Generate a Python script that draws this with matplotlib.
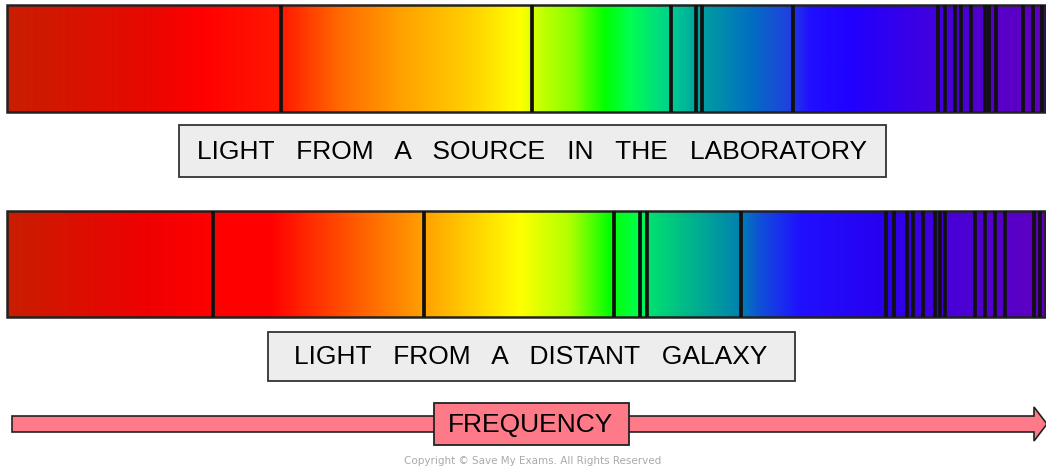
import numpy as np
import matplotlib.pyplot as plt
from matplotlib.patches import Rectangle, Polygon

W, H = 1046, 469

# absorption line positions along the frequency axis (same units as the picture width)
lab_lines = [281, 532, 671, 696, 702, 793, 938, 945, 955, 961, 971, 985, 989, 996, 1023, 1033, 1042]
galaxy_lines = [213, 424, 614, 640, 647, 741, 886, 894, 907, 913, 923, 935, 940, 945,
                975, 985, 995, 1005, 1034, 1040]

lab_label = "LIGHT   FROM   A   SOURCE   IN   THE   LABORATORY"
galaxy_label = "LIGHT   FROM   A   DISTANT   GALAXY"
axis_label = "FREQUENCY"

# colour stops of the two spectra (position, colour)
lab_stops = [7, 150, 200, 281, 340, 400, 470, 520, 540, 575, 605, 630, 670, 700, 750,
             790, 810, 850, 930, 1000, 1046]
lab_cols = ["#C81E00", "#E80800", "#FF0000", "#FF1800", "#FF6A00", "#FFA000", "#FFD000",
            "#FFFF00", "#C8FF00", "#80FF00", "#00FF00", "#00FF50", "#00D090", "#00A0A0",
            "#0070C0", "#2040E0", "#2010FF", "#2000FF", "#4000E0", "#5800C8", "#6000C0"]
gal_stops = [7, 150, 213, 270, 330, 400, 424, 480, 520, 570, 610, 640, 650, 741, 760,
             800, 880, 950, 1046]
gal_cols = ["#C81E00", "#F00000", "#FF0000", "#FF0000", "#FF4000", "#FF8800", "#FFA000",
            "#FFD800", "#FFFF00", "#B0FF00", "#00FF00", "#00FF50", "#00E070", "#0080B0",
            "#1050D8", "#2010FF", "#2800F0", "#4800D8", "#6000C0"]


def hex2rgb(h):
    return [int(h[i:i + 2], 16) / 255 for i in (1, 3, 5)]


def spectrum(ax, stops, cols, lines, y0, y1, x0=7, x1=1045):
    xs = np.linspace(x0, x1, 1200)
    rgb = np.array([hex2rgb(c) for c in cols])
    img = np.stack([np.interp(xs, stops, rgb[:, k]) for k in range(3)], axis=-1)
    ax.imshow(img[None, :, :], extent=(x0, x1, y1, y0), aspect='auto', interpolation='bilinear')
    ax.vlines(lines, y0, y1, color='#111111', lw=2.7)
    ax.add_patch(Rectangle((x0, y0), x1 - x0, y1 - y0, fill=False, ec='#222222', lw=1.8))


fig = plt.figure(figsize=(W / 100, H / 100), dpi=100)
ax = fig.add_axes([0, 0, 1, 1])
ax.set_xlim(0, W)
ax.set_ylim(H, 0)
ax.axis('off')

spectrum(ax, lab_stops, lab_cols, lab_lines, 5, 112)
spectrum(ax, gal_stops, gal_cols, galaxy_lines, 211, 317)

fam = ['Liberation Sans', 'DejaVu Sans']

ax.add_patch(Rectangle((179, 125), 707, 52, fc='#EDEDED', ec='#333333', lw=1.3))
ax.text(532, 152, lab_label, ha='center', va='center', fontsize=19, family=fam)

ax.add_patch(Rectangle((268, 332), 527, 49, fc='#EDEDED', ec='#333333', lw=1.3))
ax.text(531, 357, galaxy_label, ha='center', va='center', fontsize=19, family=fam)

# frequency arrow
pink = '#FF7A88'
arrow = Polygon([(12, 416), (1034, 416), (1034, 407), (1047, 424), (1034, 441),
                 (1034, 432), (12, 432)], closed=True, fc=pink, ec='#222222', lw=1.2)
ax.add_patch(arrow)
ax.add_patch(Rectangle((434, 403), 195, 42, fc=pink, ec='#222222', lw=1.3))
ax.text(531, 425, axis_label, ha='center', va='center', fontsize=19, family=fam)

ax.text(533, 461, "Copyright \u00a9 Save My Exams. All Rights Reserved", ha='center', va='center',
        fontsize=7.5, color='#AAAAAA', family=['DejaVu Sans'])

fig.savefig('out.png', dpi=100)
